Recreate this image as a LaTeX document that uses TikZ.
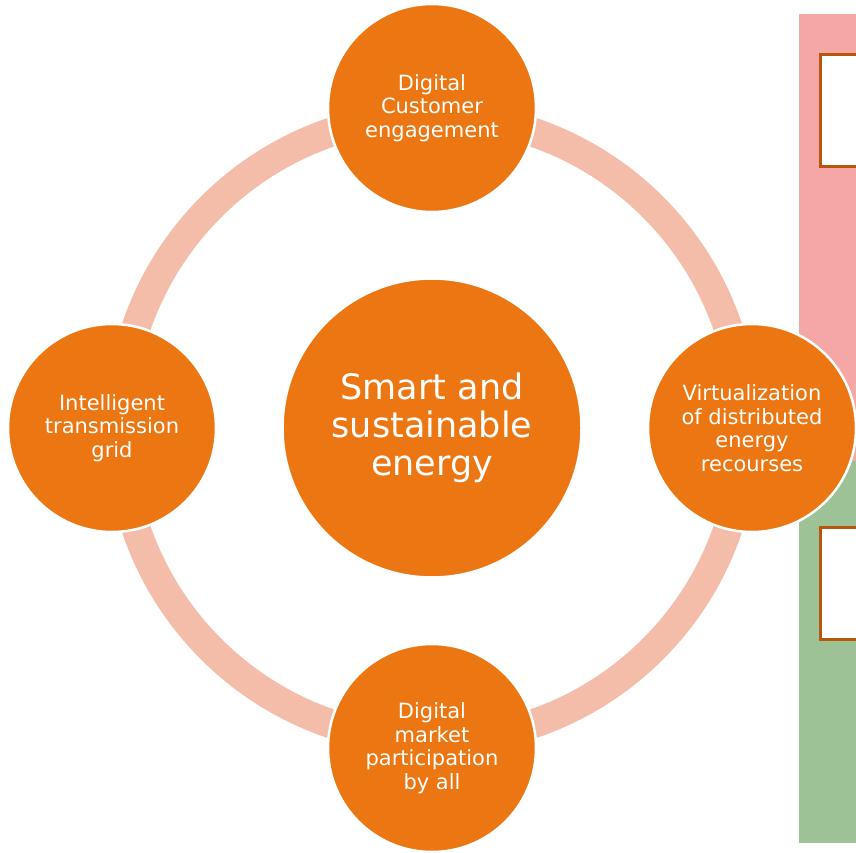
\documentclass[tikz,border=0pt]{standalone}
\usepackage{fontspec}
\setmainfont{DejaVu Sans}
\definecolor{orng}{HTML}{EC7612}
\definecolor{ringc}{HTML}{F4BDAA}
\definecolor{pnk}{HTML}{F5A7A6}
\definecolor{grn}{HTML}{9DC295}
\definecolor{brn}{HTML}{B8560E}
\tikzset{
  smallc/.style={circle, fill=orng, draw=white, line width=2.5pt, inner sep=0pt,
    minimum size=208pt, text=white, align=center,
    font=\fontsize{21}{23.6}\selectfont},
  bigc/.style={circle, fill=orng, draw=white, line width=2.5pt, inner sep=0pt,
    minimum size=299pt, text=white, align=center,
    font=\fontsize{35}{38}\selectfont},
  ringline/.style={draw=ringc, line width=29pt},
  panelbox/.style={draw=brn, fill=white, line width=2.5pt, inner sep=0pt,
    minimum width=60pt, minimum height=112pt, anchor=north west}
}
\begin{document}
\begin{tikzpicture}[x=1pt,y=-1pt]
\useasboundingbox (0,0) rectangle (856,853);
% right panel
\fill[pnk] (799,14) rectangle (856,461);
\fill[grn] (799,461) rectangle (856,843);
\node[panelbox] (box1) at (819.3,53.3) {};
\node[panelbox] (box2) at (819.3,526.3) {};
% centre
\coordinate (o) at (432,428);
\draw[ringline] (o) circle[radius=312.5pt];
\node[bigc] (core) at (o) {Smart and\\sustainable\\energy};
\node[smallc] (top) at (432,108) {Digital\\Customer\\engagement};
\node[smallc] (left) at (112,428) {Intelligent\\transmission\\grid};
\node[smallc] (right) at (752,428) {Virtualization\\of distributed\\energy\\recourses};
\node[smallc] (bottom) at (432,748) {Digital\\market\\participation\\by all};
\end{tikzpicture}
\end{document}
